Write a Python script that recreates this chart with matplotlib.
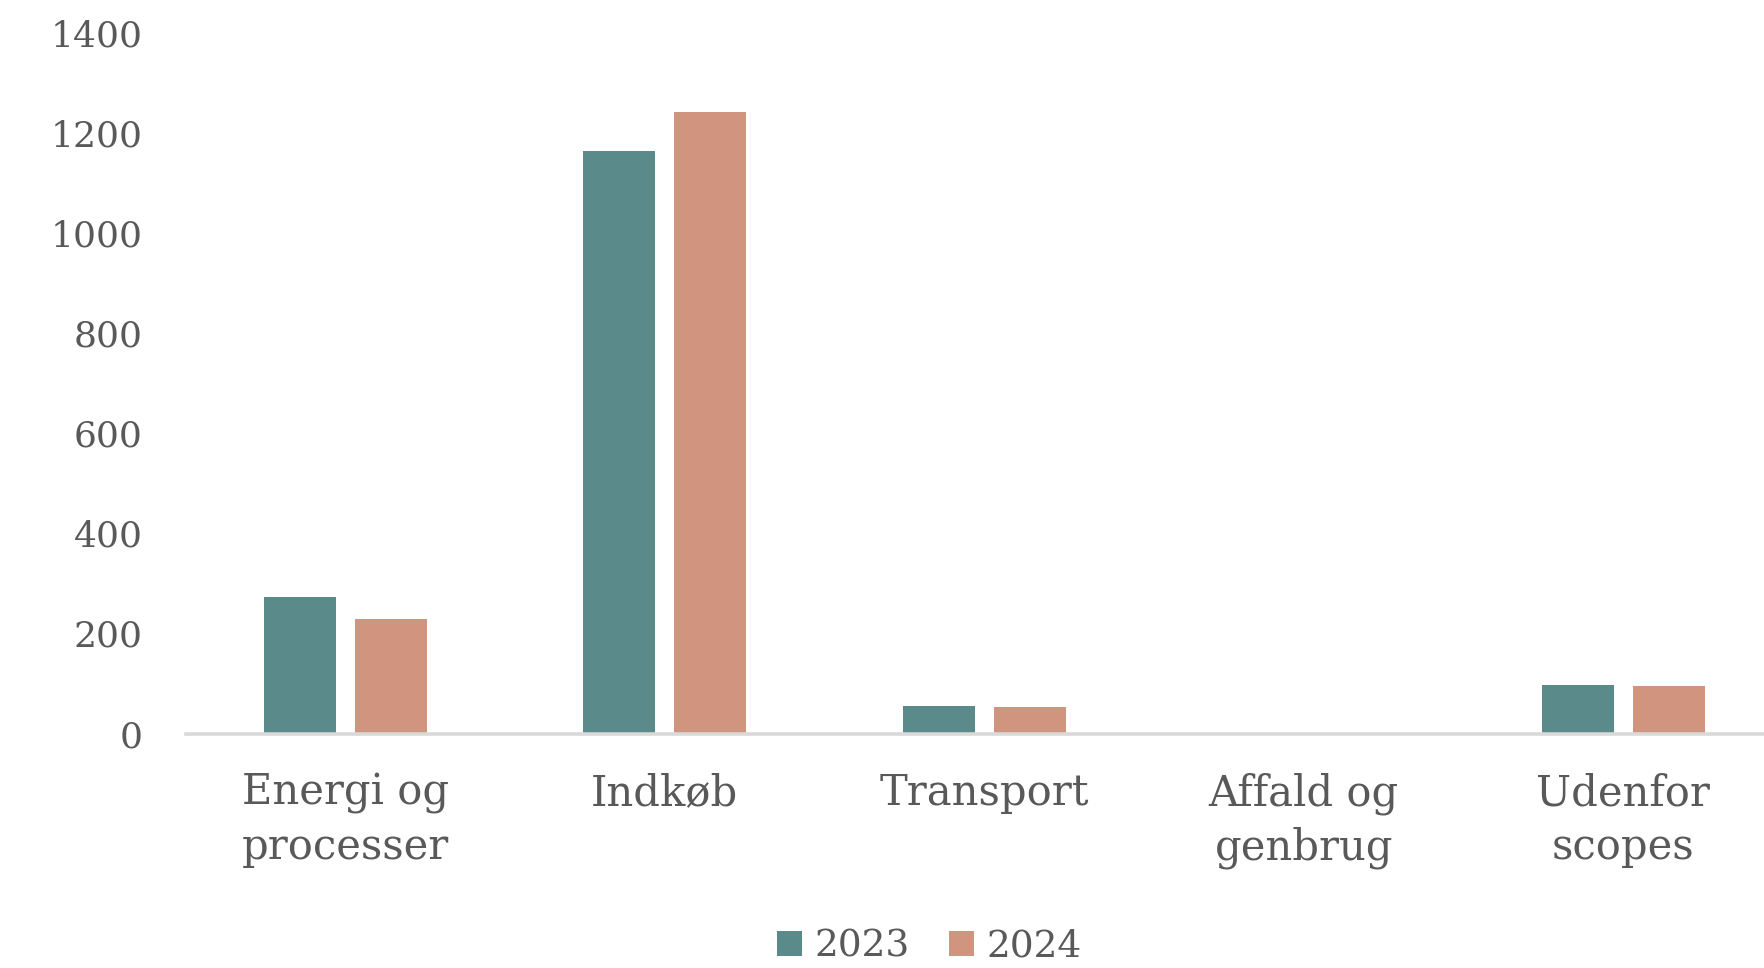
import matplotlib as mpl
import matplotlib.pyplot as plt
import numpy as np

categories = ["Energi og\nprocesser", "Indkøb", "Transport", "Affald og\ngenbrug", "Udenfor\nscopes"]
years = ["2023", "2024"]
values_2023 = [273, 1164, 55, 0, 96]
values_2024 = [229, 1241, 54, 0, 94]
yticks = [0, 200, 400, 600, 800, 1000, 1200, 1400]

TEAL, SALMON = "#5a8a8a", "#d1947e"
INK, AXIS = "#595959", "#d9d9d9"

mpl.rcParams.update({
    "font.family": ["DejaVu Serif"],
    "text.color": INK, "xtick.color": INK, "ytick.color": INK,
})

fig = plt.figure(figsize=(17.64, 9.68), dpi=100)
ax = fig.add_axes([0.1052, 0.2422, 0.9056, 0.7241])

x = np.arange(len(categories))
w, off = 0.225, 0.1425
ax.bar(x - off, values_2023, width=w, color=TEAL, label=years[0])
ax.bar(x + off, values_2024, width=w, color=SALMON, label=years[1])

ax.set_xlim(-0.5, len(categories) - 0.5)
ax.set_ylim(0, 1400)
ax.set_yticks(yticks)
ax.set_xticks(x)
ax.set_xticklabels(categories, fontsize=30, linespacing=1.35)
ax.tick_params(axis="y", length=0, pad=31, labelsize=26)
ax.tick_params(axis="x", length=0, pad=28)

for s in ("top", "right", "left"):
    ax.spines[s].set_visible(False)
ax.spines["bottom"].set_color(AXIS)
ax.spines["bottom"].set_linewidth(2.6)

fig.legend(loc="center", bbox_to_anchor=(0.527, 0.022), ncol=2, frameon=False,
           fontsize=27, handlelength=0.65, handleheight=0.65, handletextpad=0.35,
           columnspacing=1.05)

fig.savefig("out.png", dpi=100)
